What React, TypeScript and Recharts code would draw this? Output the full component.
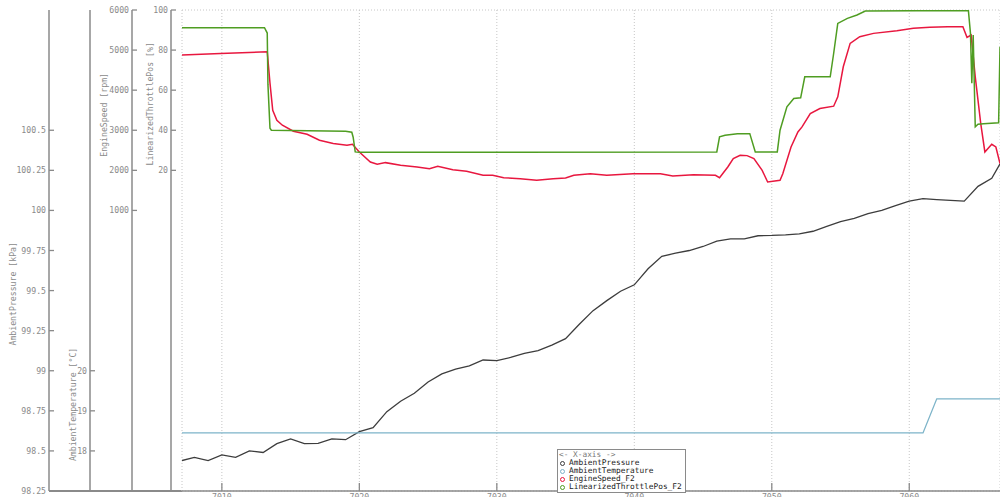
import React from "react"
import {
  LineChart,
  Line,
  XAxis,
  YAxis,
  CartesianGrid,
  ReferenceLine,
  Legend,
} from "recharts"

// time base [s]
const timeDomain = [7007.1, 7066.6]
const timeTicks = [7010, 7020, 7030, 7040, 7050, 7060]

// AmbientPressure [kPa]
const pressureTime = [
  7007.1, 7008, 7009, 7010, 7011, 7012, 7013, 7014, 7015, 7016, 7017, 7018,
  7019, 7020, 7021, 7022, 7023, 7024, 7025, 7026, 7027, 7028, 7029, 7030,
  7031, 7032, 7033, 7034, 7035, 7036, 7037, 7038, 7039, 7040, 7041, 7042,
  7043, 7044, 7045, 7046, 7047, 7048, 7049, 7050, 7051, 7052, 7053, 7054,
  7055, 7056, 7057, 7058, 7059, 7060, 7061, 7062, 7063, 7064, 7065, 7066,
  7066.6,
]
const pressureKpa = [
  98.44, 98.46, 98.44, 98.475, 98.46, 98.5, 98.49, 98.545, 98.575, 98.545,
  98.547, 98.575, 98.57, 98.62, 98.645, 98.745, 98.81, 98.86, 98.93, 98.98,
  99.01, 99.03, 99.067, 99.063, 99.083, 99.108, 99.125, 99.16, 99.2, 99.29,
  99.375, 99.4375, 99.496, 99.536, 99.636, 99.714, 99.733, 99.75, 99.775,
  99.808, 99.823, 99.823, 99.842, 99.844, 99.848, 99.854, 99.87, 99.9, 99.93,
  99.95, 99.98, 100.0, 100.03, 100.058, 100.073, 100.067, 100.062, 100.058,
  100.15, 100.2, 100.29,
]

// AmbientTemperature [°C]
const temperatureTime = [7007.1, 7061.0, 7062.0, 7066.6]
const temperatureC = [18.45, 18.45, 19.3, 19.3]

// EngineSpeed_F2 [rpm]
const engineTime = [
  7007.1, 7009.9, 7013.3, 7013.5, 7013.7, 7014.0, 7014.4, 7015.2, 7016.2,
  7017.1, 7018.1, 7019.1, 7019.5, 7020.0, 7020.8, 7021.3, 7021.9, 7023.0,
  7024.2, 7025.1, 7025.7, 7026.8, 7027.8, 7029.0, 7029.7, 7030.5, 7031.7,
  7032.9, 7034.1, 7035.0, 7035.6, 7036.8, 7038.0, 7039.9, 7041.9, 7042.8,
  7044.3, 7045.9, 7046.2, 7046.8, 7047.2, 7047.7, 7048.2, 7048.7, 7049.3,
  7049.7, 7050.6, 7050.8, 7051.4, 7051.9, 7052.2, 7052.8, 7053.5, 7054.5,
  7054.8, 7055.2, 7055.7, 7056.4, 7057.4, 7059.1, 7060.3, 7061.5, 7062.8,
  7063.9, 7064.2, 7064.5, 7064.8, 7065.2, 7065.5, 7066.0, 7066.3, 7066.6,
]
const engineRpm = [
  4875, 4917, 4958, 4175, 3500, 3250, 3125, 2975, 2900, 2750, 2667, 2625, 2650,
  2458, 2208, 2150, 2192, 2125, 2083, 2042, 2100, 2017, 1975, 1875, 1875, 1817,
  1792, 1750, 1792, 1808, 1875, 1917, 1875, 1917, 1917, 1858, 1892, 1875, 1817,
  2083, 2292, 2375, 2367, 2292, 2000, 1708, 1750, 1917, 2583, 2958, 3083, 3417,
  3542, 3600, 3833, 4583, 5167, 5333, 5417, 5483, 5542, 5567, 5583, 5583, 5317,
  5375, 4333, 3167, 2458, 2650, 2583, 2167,
]

// LinearizedThrottlePos_F2 [%]
const throttleTime = [
  7007.1, 7013.1, 7013.3, 7013.35, 7013.5, 7013.6, 7019.0, 7019.45, 7019.55,
  7019.7, 7020.0, 7046.0, 7046.2, 7046.6, 7047.5, 7048.4, 7048.8, 7050.4,
  7050.6, 7051.1, 7051.6, 7052.1, 7052.4, 7054.25, 7054.5, 7054.8, 7055.5,
  7056.2, 7056.8, 7064.3, 7064.45, 7064.55, 7064.65, 7064.8, 7065.0, 7065.4,
  7066.5, 7066.6,
]
const throttlePct = [
  91.2, 91.2, 88.5, 63, 41, 40, 39.5, 39, 36.5, 29.2, 29, 29.2, 36.7, 37.5,
  38.3, 38.3, 29.2, 29.2, 40, 51.7, 55.8, 56.2, 66.7, 66.7, 78.3, 93.3, 95.8,
  97.5, 99.5, 99.8, 88.5, 63.5, 87.5, 41.7, 43, 43.3, 43.7, 81.7,
]

// tick labels of the stacked y axes
const pressureTicks = [98.25, 98.5, 98.75, 99, 99.25, 99.5, 99.75, 100, 100.25, 100.5]
const temperatureTicks = [18, 19, 20]
const engineTicks = [1000, 2000, 3000, 4000, 5000, 6000]
const throttleTicks = [20, 40, 60, 80, 100]
const gridTicks = [0, 1, 2, 3, 4, 5, 6, 7, 8, 9, 10, 11, 12]

const zip = (ts: number[], vs: number[]) => ts.map((t, i) => ({ t, v: vs[i] }))

const pressureData = zip(pressureTime, pressureKpa)
const temperatureData = zip(temperatureTime, temperatureC)
const engineData = zip(engineTime, engineRpm)
const throttleData = zip(throttleTime, throttlePct)

const FONT = '"DejaVu Sans Mono", "Liberation Mono", monospace'
const AXIS = "#8a8a8a"
const TEXT = "#8a8a8a"
const FS = 8.2

// y axes are stacked by id (first id sits next to the plot)
const Y_GRID = "y1grid"
const Y_THROTTLE = "y2throttle"
const Y_ENGINE = "y3engine"
const Y_TEMP = "y4temp"
const Y_PRESSURE = "y5pressure"

const yTick = (props: any) => {
  const { x, y, payload } = props
  return (
    <g>
      <line x1={x + 3} x2={x + 8} y1={y} y2={y} stroke={AXIS} strokeWidth={1.3} />
      <text
        x={x}
        y={y}
        textAnchor="end"
        dominantBaseline="central"
        fontFamily={FONT}
        fontSize={FS}
        fill={TEXT}
      >
        {payload.value}
      </text>
    </g>
  )
}

const xTick = (props: any) => {
  const { x, y, payload } = props
  return (
    <g>
      <line x1={x} x2={x} y1={y - 3} y2={y - 11} stroke={AXIS} strokeWidth={1.3} />
      <text
        x={x}
        y={y}
        dy="0.78em"
        textAnchor="middle"
        fontFamily={FONT}
        fontSize={FS}
        fill={TEXT}
      >
        {payload.value}
      </text>
    </g>
  )
}

const axisLabel = (text: string, dx: number, frac: number) => (props: any) => {
  const vb = props.viewBox
  const cx = vb.x + dx
  const cy = vb.y + frac * vb.height
  return (
    <text
      x={cx}
      y={cy}
      transform={`rotate(-90, ${cx}, ${cy})`}
      textAnchor="middle"
      dominantBaseline="central"
      fontFamily={FONT}
      fontSize={FS}
      fill={TEXT}
    >
      {text}
    </text>
  )
}

function LegendBox({ payload }: any) {
  return (
    <div
      style={{
        border: "1px solid #8a8a8a",
        background: "#fff",
        padding: "1px 3px 1px 1px",
        fontFamily: FONT,
        fontSize: 7.8,
        lineHeight: "8px",
        color: "#222",
        whiteSpace: "nowrap",
      }}
    >
      <div style={{ color: "#777" }}>{"<- X-axis ->"}</div>
      {(payload || []).map((p: any) => (
        <div key={p.value} style={{ display: "flex", alignItems: "center" }}>
          <span
            style={{
              display: "inline-block",
              width: 3,
              height: 3,
              borderRadius: "50%",
              border: `1px solid ${p.color}`,
              margin: "0 4px 0 1px",
            }}
          />
          {p.value}
        </div>
      ))}
    </div>
  )
}

export default function App() {
  return (
    <div
      style={{
        position: "fixed",
        left: 0,
        top: 0,
        width: 1000,
        height: 497,
        overflow: "hidden",
        background: "#fff",
      }}
    >
      <div
        style={{
          position: "absolute",
          left: 49,
          top: 490,
          width: 133,
          height: 1.5,
          background: AXIS,
        }}
      />
      <LineChart
        width={1000}
        height={515}
        margin={{ top: 10, right: 0, left: 0, bottom: 0 }}
      >
        <CartesianGrid
          yAxisId={Y_GRID}
          stroke="#c6c6c6"
          strokeDasharray="1 2"
        />
        <XAxis
          dataKey="t"
          type="number"
          domain={timeDomain}
          allowDataOverflow
          ticks={timeTicks}
          interval={0}
          height={24}
          tickSize={0}
          tickMargin={3}
          tick={xTick}
          tickLine={false}
          axisLine={{ stroke: AXIS, strokeWidth: 1.5 }}
        />
        <YAxis
          yAxisId={Y_GRID}
          width={11}
          domain={[0, 12]}
          ticks={gridTicks}
          interval={0}
          tick={false}
          tickLine={false}
          axisLine={false}
        />
        <YAxis
          yAxisId={Y_THROTTLE}
          width={39}
          type="number"
          domain={[-140, 100]}
          allowDataOverflow
          ticks={throttleTicks}
          interval={0}
          tickSize={0}
          tickMargin={3}
          tick={yTick}
          tickLine={false}
          axisLine={{ stroke: AXIS, strokeWidth: 1.5 }}
          label={{ content: axisLabel("LinearizedThrottlePos [%]", 18.5, 0.195) }}
        />
        <YAxis
          yAxisId={Y_ENGINE}
          width={42}
          type="number"
          domain={[-6000, 6000]}
          allowDataOverflow
          ticks={engineTicks}
          interval={0}
          tickSize={0}
          tickMargin={3}
          tick={yTick}
          tickLine={false}
          axisLine={{ stroke: AXIS, strokeWidth: 1.5 }}
          label={{ content: axisLabel("EngineSpeed [rpm]", 14, 0.218) }}
        />
        <YAxis
          yAxisId={Y_TEMP}
          width={41}
          type="number"
          domain={[17, 29]}
          allowDataOverflow
          ticks={temperatureTicks}
          interval={0}
          tickSize={0}
          tickMargin={3}
          tick={yTick}
          tickLine={false}
          axisLine={{ stroke: AXIS, strokeWidth: 1.5 }}
          label={{ content: axisLabel("AmbientTemperature [°C]", 24.5, 0.82) }}
        />
        <YAxis
          yAxisId={Y_PRESSURE}
          width={49}
          type="number"
          domain={[98.25, 101.25]}
          allowDataOverflow
          ticks={pressureTicks}
          interval={0}
          tickSize={0}
          tickMargin={3}
          tick={yTick}
          tickLine={false}
          axisLine={{ stroke: AXIS, strokeWidth: 1.5 }}
          label={{ content: axisLabel("AmbientPressure [kPa]", 13, 0.59) }}
        />
        <ReferenceLine yAxisId={Y_GRID} y={12} stroke={AXIS} strokeWidth={2} />
        <ReferenceLine yAxisId={Y_GRID} x={timeDomain[0]} stroke={AXIS} strokeWidth={1.5} />
        <Line
          data={pressureData}
          dataKey="v"
          name="AmbientPressure"
          yAxisId={Y_PRESSURE}
          type="linear"
          stroke="#3d3d3d"
          strokeWidth={1.3}
          dot={false}
          isAnimationActive={false}
        />
        <Line
          data={temperatureData}
          dataKey="v"
          name="AmbientTemperature"
          yAxisId={Y_TEMP}
          type="linear"
          stroke="#7db4c9"
          strokeWidth={1.3}
          dot={false}
          isAnimationActive={false}
        />
        <Line
          data={engineData}
          dataKey="v"
          name="EngineSpeed_F2"
          yAxisId={Y_ENGINE}
          type="linear"
          stroke="#e8173f"
          strokeWidth={1.5}
          dot={false}
          isAnimationActive={false}
        />
        <Line
          data={throttleData}
          dataKey="v"
          name="LinearizedThrottlePos_F2"
          yAxisId={Y_THROTTLE}
          type="linear"
          stroke="#4f9d22"
          strokeWidth={1.5}
          dot={false}
          isAnimationActive={false}
        />
        <Legend
          layout="horizontal"
          verticalAlign="middle"
          align="center"
          content={<LegendBox />}
          wrapperStyle={{ left: 557, top: 449, width: "auto", height: "auto" }}
        />
      </LineChart>
    </div>
  )
}
